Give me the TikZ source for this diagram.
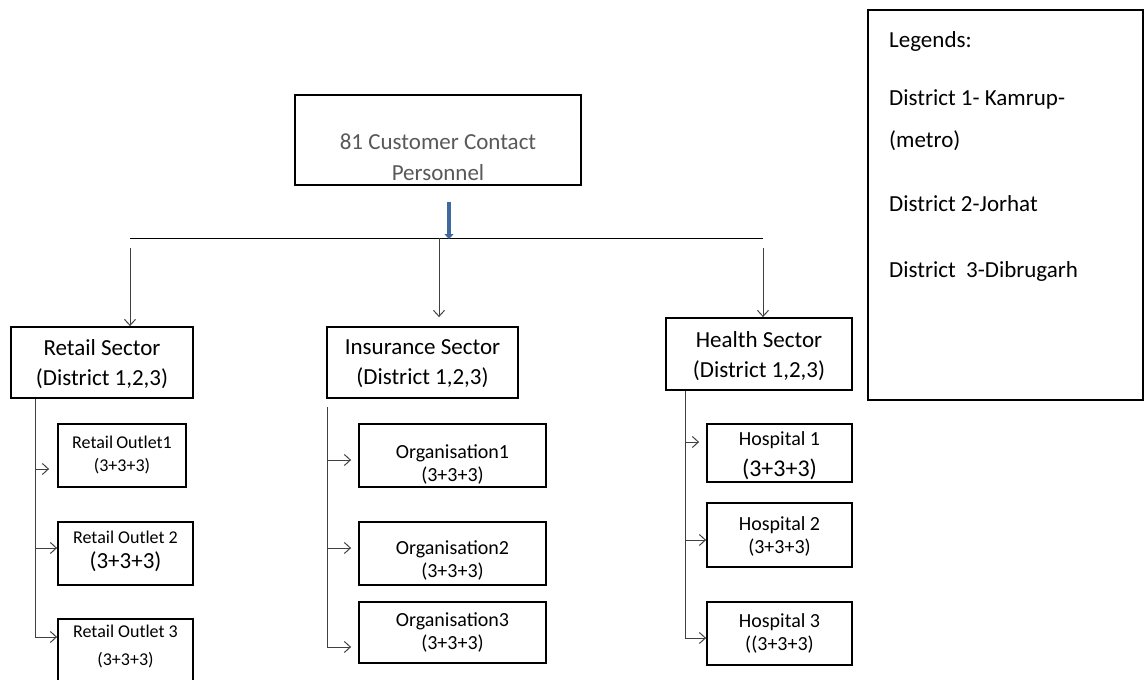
\documentclass[tikz,border=0pt]{standalone}
\usepackage{fontspec}
\setmainfont{Carlito}
\usetikzlibrary{arrows.meta,calc}
\definecolor{txtgray}{HTML}{595959}
\definecolor{steelarr}{RGB}{65,105,160}
\definecolor{connc}{HTML}{404040}
\newcommand\fsecx{\fontsize{23}{30}\selectfont}
\newcommand\fsmx{\fontsize{18}{23}\selectfont}
\newcommand\fmidx{\fontsize{20}{23}\selectfont}
\newcommand\flegx{\fontsize{23}{30}\selectfont}
\tikzset{
  box/.style={draw=black, line width=1.8pt, inner sep=0pt, fill=white},
  conn/.style={draw=connc, line width=1pt},
  arr/.style={conn, -{Straight Barb[length=6pt,width=11pt,line width=1pt]}},
  bluearr/.style={draw=steelarr, line width=4pt, -{Triangle[length=5pt,width=9pt]}},
  btxt/.style={align=center, inner sep=0pt},
  legtxt/.style={font=\flegx, inner sep=0pt, anchor=base west}
}
\begin{document}
\begin{tikzpicture}[x=1pt,y=-1pt]
\useasboundingbox (0,0) rectangle (1146,680);

% top box
\node[box, minimum width=286pt, minimum height=90pt,
  label={[btxt, font=\fontsize{23}{31}\selectfont, text=txtgray, yshift=-17.5pt]center:{81 Customer Contact\\Personnel}}] (top) at (438,140) {};

% sector boxes
\node[box, minimum width=182pt, minimum height=71pt,
  label={[btxt, font=\fsecx, yshift=-1.5pt]center:{Retail Sector\\(District 1,2,3)}}] (retail) at (102,362.5) {};
\node[box, minimum width=191pt, minimum height=71pt,
  label={[btxt, font=\fsecx, yshift=-1.5pt]center:{Insurance Sector\\(District 1,2,3)}}] (ins) at (422.5,362.5) {};
\node[box, minimum width=186pt, minimum height=72pt,
  label={[btxt, font=\fsecx, yshift=-2pt]center:{Health Sector\\(District 1,2,3)}}] (health) at (759,354) {};

% retail outlets
\node[box, minimum width=128pt, minimum height=63pt,
  label={[btxt, font=\fsmx, yshift=1pt]center:{Retail\kern-1pt\ Outlet1\\(3+3+3)}}] (ro1) at (122,455.5) {};
\node[box, minimum width=135pt, minimum height=63pt,
  label={[btxt, yshift=2pt]center:{{\fsmx Retail Outlet 2}\\[7pt]{\fsecx (3+3+3)}}}] (ro2) at (125.5,553.5) {};
\node[box, minimum width=135pt, minimum height=81pt,
  label={[btxt, font=\fontsize{18}{28}\selectfont, yshift=13.5pt]center:{Retail Outlet 3\\(3+3+3)}}] (ro3) at (125.5,659.5) {};

% organisations
\node[box, minimum width=187pt, minimum height=63pt,
  label={[btxt, font=\fmidx, yshift=-9pt]center:{Organisation1\\(3+3+3)}}] (org1) at (452.5,455.5) {};
\node[box, minimum width=187pt, minimum height=63pt,
  label={[btxt, font=\fmidx, yshift=-6.5pt]center:{Organisation2\\(3+3+3)}}] (org2) at (452.5,553.5) {};
\node[box, minimum width=187pt, minimum height=61pt,
  label={[btxt, font=\fmidx, yshift=0pt]center:{Organisation3\\(3+3+3)}}] (org3) at (452.5,632.5) {};

% hospitals
\node[box, minimum width=145pt, minimum height=58pt,
  label={[btxt, yshift=-3pt]center:{{\fmidx Hospital 1}\\[9pt]{\fontsize{24}{28}\selectfont (3+3+3)}}}] (hos1) at (779.5,453) {};
\node[box, minimum width=145pt, minimum height=64pt,
  label={[btxt, font=\fmidx, yshift=-1pt]center:{Hospital 2\\(3+3+3)}}] (hos2) at (779.5,535) {};
\node[box, minimum width=145pt, minimum height=63pt,
  label={[btxt, font=\fmidx, yshift=0pt]center:{Hospital 3\\((3+3+3)}}] (hos3) at (779.5,633.5) {};

% legend
\node[box, minimum width=275pt, minimum height=390pt] (legend) at (1005.5,205) {};
\node[legtxt] (lg0) at (889,47) {Legends:};
\node[legtxt] (lg1) at (889,105) {District 1- Kamrup-};
\node[legtxt] (lg2) at (889,147) {(metro)};
\node[legtxt] (lg3) at (889,211) {District 2-Jorhat};
\node[legtxt] (lg4) at (889,277) {District\ \ 3-Dibrugarh};

% distribution line and arrows
\coordinate (hL) at (130,238);
\coordinate (hR) at (763,238);
\draw[conn, draw=black] (hL) -- (hR);
\coordinate (bA) at (449,202);
\coordinate (bB) at (449,239);
\draw[bluearr] (bA) -- (bB);

\coordinate (dL) at (130,248);
\coordinate (dM) at (439,238);
\coordinate (dR) at (763,248);
\draw[arr] (dL) -- (dL |- retail.north);
\draw[arr] (dM) -- ([yshift=9pt]dM |- ins.north);
\draw[arr] (dR) -- (dR |- health.north);

% retail branch
\coordinate (rT) at (35,0);
\coordinate (ro1in) at ([xshift=-8pt,yshift=-13.5pt]ro1.west);
\coordinate (ro2in) at ([yshift=5.5pt]ro2.west);
\coordinate (ro3in) at ([yshift=22.5pt]ro3.west);
\draw[arr] (retail.south -| rT) |- (ro3in);
\draw[arr] (rT |- ro1in) -- (ro1in);
\draw[arr] (rT |- ro2in) -- (ro2in);

% insurance branch
\coordinate (iT) at (327,407);
\coordinate (o1in) at ([xshift=-7pt,yshift=-4.5pt]org1.west);
\coordinate (o2in) at ([xshift=-7pt,yshift=5.5pt]org2.west);
\coordinate (o3in) at ([xshift=-7pt,yshift=-14.5pt]org3.west);
\draw[arr] (iT) |- (o3in);
\draw[arr] (iT |- o1in) -- (o1in);
\draw[arr] (iT |- o2in) -- (o2in);

% health branch
\coordinate (hT) at (685,0);
\coordinate (h1in) at ([xshift=-7pt,yshift=11pt]hos1.west);
\coordinate (h2in) at ([yshift=-5pt]hos2.west);
\coordinate (h3in) at ([yshift=-4.5pt]hos3.west);
\draw[arr] (health.south -| hT) |- (h3in);
\draw[arr] (hT |- h1in) -- (h1in);
\draw[arr] (hT |- h2in) -- (h2in);
\end{tikzpicture}
\end{document}
